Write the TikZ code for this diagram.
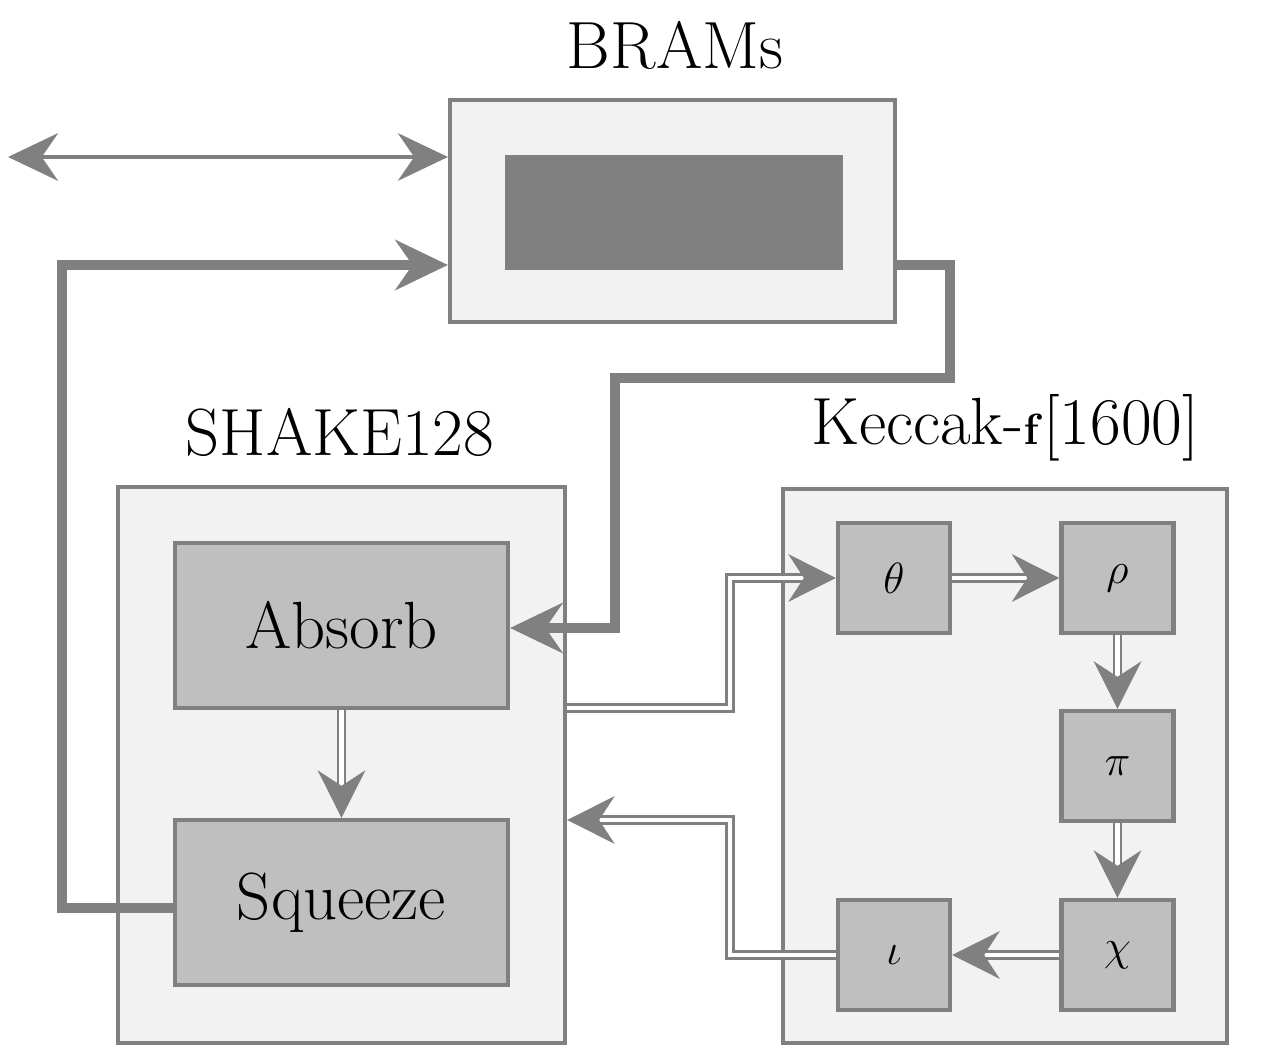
\documentclass[tikz,border=0pt]{standalone}
\usetikzlibrary{arrows.meta}
\DeclareMathSizes{38}{38}{28}{20}
\begin{document}
\begin{tikzpicture}[x=0.02cm,y=-0.02cm,
  every node/.style={font=\fontsize{38}{44}\selectfont},
  box/.style={draw=gray, line width=2.4pt, fill=gray!10},
  blk/.style={draw=gray, line width=2.4pt, fill=gray!50},
  fat/.style={draw=gray, line width=5.8pt, -{Stealth[length=1.05cm,width=1cm]}},
  dbl/.style={draw=gray, line width=1.6pt, double=white, double distance=2.4pt, -{Stealth[length=0.95cm,width=0.95cm]}}]
\useasboundingbox (0,0) rectangle (1279,1060);
% BRAMs
\node[box, minimum width=8.9cm, minimum height=4.44cm] (bram) at (672.5,211) {};
\node[draw=none, fill=gray, minimum width=6.76cm, minimum height=2.3cm] (mem) at (674,212.5) {};
\node (tbram) at (675,45) {BRAMs};
% SHAKE128
\node[box, minimum width=8.94cm, minimum height=11.12cm] (shake) at (341.5,765) {};
\node (tshake) at (340,432) {SHAKE128};
\node[blk, minimum width=6.66cm, minimum height=3.3cm] (abs) at (341.5,625.5) {Absorb};
\node[blk, minimum width=6.66cm, minimum height=3.3cm] (sq) at (341.5,902.5) {Squeeze};
% Keccak
\node[box, minimum width=8.88cm, minimum height=11.08cm] (kec) at (1005,766) {};
\node (tkec) at (1005,428) {Keccak-$\mathbf{f}$[1600]};
\tikzset{stage/.style={blk, minimum width=2.24cm, minimum height=2.2cm}}
\node[stage] (th) at (894,578) {$\theta$};
\node[stage] (rh) at (1117.5,578) {$\rho$};
\node[stage] (pi) at (1117.5,766) {$\pi$};
\node[stage] (ch) at (1117.5,955) {$\chi$};
\node[stage] (io) at (894,955) {$\iota$};
% connectors
\coordinate (ext) at (8,157);
\draw[draw=gray, line width=2.4pt, {Stealth[length=1cm,width=0.95cm]}-{Stealth[length=1cm,width=0.95cm]}] (ext) -- (bram.west |- ext);
\draw[fat] (sq.west |- 0,908) -- (62,908) |- (bram.west |- 0,265);
\draw[fat] (bram.east |- 0,265) -| (950,378) -| (615,628) -- (abs.east |- 0,628);
\draw[dbl] (abs) -- (sq);
\draw[dbl] (th) -- (rh);
\draw[dbl] (rh) -- (pi);
\draw[dbl] (pi) -- (ch);
\draw[dbl] (ch) -- (io);
\draw[dbl] (shake.east |- 0,708) -| (730,578) -- (th.west);
\draw[dbl] (io.west) -| (730,820) -- (shake.east |- 0,820);
\end{tikzpicture}
\end{document}
